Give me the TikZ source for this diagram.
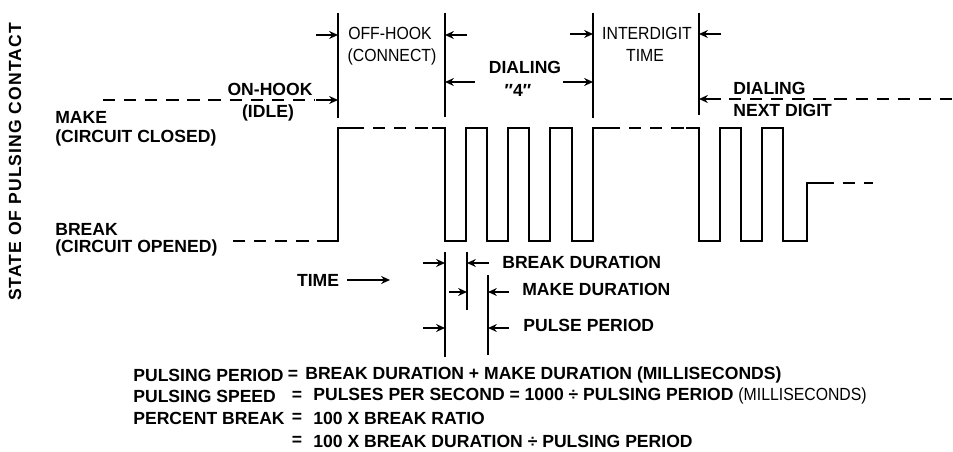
\documentclass[tikz,border=0pt]{standalone}
\usepackage{fontspec}
\setmainfont{Liberation Sans}
\newfontfamily\thinfont[FakeStretch=0.9]{Liberation Sans}
\usepackage{tikz}
\usetikzlibrary{arrows.meta}
\definecolor{ink}{RGB}{0,0,0}
\tikzset{
  wave/.style={line width=1.1pt, color=ink},
  dashwave/.style={line width=1.1pt, color=ink, dash pattern=on 7pt off 5pt},
  tickline/.style={line width=1pt, color=ink},
  dimarrow/.style={-{Stealth[length=5pt,width=4.5pt]}, line width=1pt, color=ink},
  lbl/.style={font=\fontsize{10}{12}\selectfont\bfseries, inner sep=0pt, color=ink},
  thinlbl/.style={font=\fontsize{10}{12}\selectfont\thinfont, inner sep=0pt, color=ink}
}

\begin{document}
\begin{tikzpicture}[x=0.02cm, y=-0.02cm]
  \useasboundingbox (0,0) rectangle (953,452);

  % Axis label
  \node[lbl, rotate=90, font=\fontsize{10}{12}\selectfont\bfseries\addfontfeature{LetterSpace=6}] (statelbl) at (15,162) {STATE OF PULSING CONTACT};

  % Level labels
  \node[lbl, anchor=west] (makelbl) at (55,117) {MAKE};
  \node[lbl, anchor=west] (closedlbl) at (55,138) {(CIRCUIT CLOSED)};
  \node[lbl, anchor=west] (breaklbl) at (55,229) {BREAK};
  \node[lbl, anchor=west] (openedlbl) at (55,248) {(CIRCUIT OPENED)};

  % Waveform
  \draw[dashwave] (233,241) -- (330,241);
  \draw[wave] (330,241) -- (338,241) -- (338,128) -- (352,128);
  \draw[dashwave] (352,128) -- (432,128);
  \draw[wave] plot coordinates {
    (432,128) (445,128) (445,241) (466,241) (466,128) (487,128) (487,241) (508,241) (508,128)
    (529,128) (529,241) (550,241) (550,128) (572,128) (572,241) (593,241) (593,128) (608,128)
  };
  \draw[dashwave] (608,128) -- (686,128);
  \draw[wave] plot coordinates {
    (686,128) (699,128) (699,241) (720,241) (720,128) (741,128) (741,241) (762,241) (762,128)
    (783,128) (783,241) (807,241) (807,183) (822,183)
  };
  \draw[dashwave] (822,183) -- (873,183);

  % Phase boundaries
  \coordinate (onend) at (338,118);
  \coordinate (offend) at (445,117);
  \coordinate (dialend) at (593,118);
  \coordinate (idend) at (699,115);
  \draw[tickline] (338,13) -- (onend);
  \draw[tickline] (445,13) -- (offend);
  \draw[tickline] (593,13) -- (dialend);
  \draw[tickline] (699,13) -- (idend);

  % On-hook
  \draw[dashwave] (103,100) -- (314,100);
  \draw[dimarrow] (316,100) -- (338,100);
  \node[lbl] (onhook) at (270,89) {ON-HOOK};
  \node[lbl] (idle) at (268,113) {(IDLE)};

  % Off-hook
  \draw[dimarrow] (316,35) -- (338,35);
  \draw[dimarrow] (467,35) -- (445,35);
  \node[thinlbl] (offhook) at (390,33) {OFF-HOOK};
  \node[thinlbl] (connect) at (392,57) {(CONNECT)};

  % Dialing 4
  \draw[dimarrow] (475,82) -- (445,82);
  \draw[dimarrow] (563,82) -- (593,82);
  \node[lbl] (dialing) at (525,67) {DIALING};
  \node[lbl] (four) at (518,90) {″4″};

  % Interdigit time
  \draw[dimarrow] (570,34) -- (593,34);
  \draw[dimarrow] (721,34) -- (699,34);
  \node[thinlbl] (interdigit) at (647,33) {INTERDIGIT};
  \node[thinlbl] (idtime) at (645,55) {TIME};

  % Next digit
  \draw[dimarrow] (721,99) -- (699,99);
  \draw[dashwave] (729,99) -- (953,99);
  \node[lbl, anchor=west] (nextdial) at (733,88) {DIALING};
  \node[lbl, anchor=west] (nextdigit) at (733,110) {NEXT DIGIT};

  % Time arrow
  \node[lbl] (timelbl) at (318,280) {TIME};
  \draw[dimarrow] (347,280) -- (390,280);

  % Pulse timing
  \draw[tickline] (445,252) -- (445,357);
  \draw[tickline] (467,252) -- (467,310);
  \draw[tickline] (488,275) -- (488,355);
  \draw[dimarrow] (423,263) -- (445,263);
  \draw[dimarrow] (489,263) -- (467,263);
  \draw[dimarrow] (449,292) -- (467,292);
  \draw[dimarrow] (509,292) -- (488,292);
  \draw[dimarrow] (423,328) -- (445,328);
  \draw[dimarrow] (509,328) -- (488,328);
  \node[lbl, anchor=west] (breakdur) at (502,262) {BREAK DURATION};
  \node[lbl, anchor=west] (makedur) at (522,289) {MAKE DURATION};
  \node[lbl, anchor=west] (pulseper) at (523,325) {PULSE PERIOD};

  % Formulas
  \node[lbl, anchor=west] (fperiod) at (133,375) {PULSING PERIOD};
  \node[lbl] (eqa) at (293,375) {=};
  \node[lbl, anchor=west] (rperiod) at (305,375) {BREAK DURATION + MAKE DURATION (MILLISECONDS)};
  \node[lbl, anchor=west] (fspeed) at (133,396) {PULSING SPEED};
  \node[lbl] (eqb) at (297,396) {=};
  \node[lbl, anchor=west] (rspeed) at (313,396) {PULSES PER SECOND = 1000 ÷ PULSING PERIOD {\mdseries\thinfont (MILLISECONDS)}};
  \node[lbl, anchor=west] (fbreak) at (133,418) {PERCENT BREAK};
  \node[lbl] (eqc) at (297,418) {=};
  \node[lbl, anchor=west] (rbreak) at (313,418) {100 X BREAK RATIO};
  \node[lbl] (eqd) at (297,441) {=};
  \node[lbl, anchor=west] (rbreakb) at (313,441) {100 X BREAK DURATION ÷ PULSING PERIOD};
\end{tikzpicture}
\end{document}
